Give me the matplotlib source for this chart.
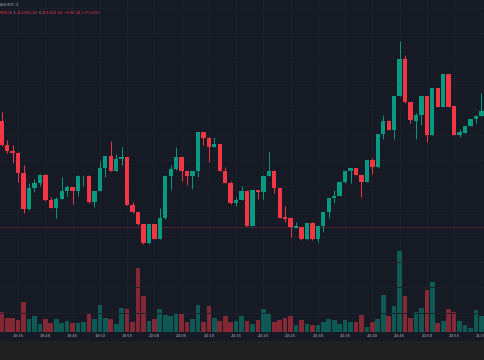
import numpy as np
import pandas as pd
import matplotlib
matplotlib.use("Agg")
import matplotlib.pyplot as plt

# 1 minute candles, 19:32 -> 21:01
times = pd.date_range("2025-01-01 19:32", periods=90, freq="1min")

opens = [113956.6, 113927.5, 113920.8, 113918.8, 113895.2, 113852.0, 113877.5, 113882.7, 113892.5, 113863.0,
         113853.9, 113864.5, 113873.3, 113878.0, 113874.0, 113891.0, 113891.7, 113860.3, 113873.6, 113900.8,
         113914.9, 113897.6, 113911.0, 113913.7, 113857.5, 113848.5, 113834.3, 113812.3, 113834.3, 113817.3,
         113841.4, 113891.7, 113899.2, 113913.4, 113897.2, 113891.7, 113897.2, 113942.9, 113936.5, 113925.9,
         113929.1, 113897.6, 113883.4, 113859.1, 113863.0, 113874.0, 113832.3, 113874.8, 113872.1, 113891.7,
         113897.6, 113876.8, 113843.3, 113841.4, 113830.3, 113831.5, 113816.6, 113836.2, 113816.6, 113832.3,
         113848.8, 113865.0, 113867.7, 113884.6, 113897.6, 113900.8, 113892.5, 113884.6, 113910.2, 113901.6,
         113940.5, 113956.6, 113945.6, 113985.7, 114029.4, 113978.3, 113956.6, 113963.3, 113985.7, 113939.7,
         113994.8, 113973.1, 114011.7, 113973.9, 113939.7, 113942.4, 113950.3, 113958.6, 113962.1, 113967.94]
highs = [113967.2, 113933.4, 113927.9, 113919.6, 113904.3, 113882.7, 113887.4, 113893.1, 113893.1, 113866.9,
         113866.9, 113890.5, 113880.7, 113878.3, 113892.5, 113892.2, 113892.2, 113874.0, 113909.0, 113915.3,
         113932.6, 113917.3, 113925.9, 113914.1, 113860.3, 113848.8, 113834.7, 113834.7, 113834.7, 113853.2,
         113892.2, 113904.3, 113925.9, 113913.7, 113897.6, 113897.6, 113943.2, 113943.2, 113937.0, 113937.7,
         113929.4, 113902.3, 113885.8, 113866.9, 113879.5, 113874.4, 113875.2, 113875.2, 113892.2, 113919.3,
         113898.0, 113877.2, 113855.6, 113841.8, 113836.8, 113832.0, 113836.7, 113836.7, 113832.7, 113849.2,
         113865.4, 113874.8, 113885.1, 113898.0, 113901.1, 113901.1, 113892.9, 113910.6, 113912.2, 113940.9,
         113963.3, 113957.1, 113986.1, 114050.6, 114034.1, 113978.6, 113965.3, 113986.1, 113986.1, 113995.2,
         113995.2, 114012.0, 114012.0, 113974.3, 113946.4, 113950.7, 113958.9, 113963.0, 113988.9, 113968.00]
lows = [113926.7, 113918.1, 113906.3, 113884.6, 113848.0, 113851.2, 113872.8, 113879.5, 113862.4, 113853.6,
        113841.4, 113864.2, 113867.7, 113858.3, 113868.1, 113879.5, 113859.8, 113854.4, 113873.3, 113890.5,
        113897.2, 113897.2, 113904.3, 113857.1, 113848.0, 113833.9, 113811.1, 113810.7, 113817.0, 113817.0,
        113840.9, 113874.8, 113898.8, 113885.8, 113880.7, 113875.6, 113890.5, 113927.9, 113908.2, 113925.5,
        113897.2, 113883.1, 113858.6, 113855.9, 113862.6, 113832.0, 113832.0, 113864.2, 113864.2, 113891.3,
        113870.9, 113841.8, 113836.7, 113819.7, 113830.0, 113816.2, 113816.2, 113816.2, 113813.8, 113825.8,
        113841.4, 113859.1, 113867.4, 113882.7, 113883.4, 113892.2, 113866.9, 113884.2, 113893.3, 113901.1,
        113934.6, 113945.3, 113935.0, 113985.4, 113977.8, 113954.2, 113935.0, 113951.5, 113931.8, 113939.4,
        113972.7, 113972.7, 113972.7, 113939.4, 113937.7, 113942.1, 113950.0, 113953.5, 113961.8, 113831.60]
closes = [113927.5, 113920.5, 113918.8, 113895.2, 113852.0, 113877.5, 113882.7, 113892.5, 113863.0, 113853.9,
          113864.5, 113873.3, 113878.0, 113874.0, 113891.7, 113891.7, 113860.3, 113873.6, 113900.8, 113914.9,
          113897.6, 113911.0, 113913.7, 113857.5, 113848.5, 113834.3, 113812.3, 113834.3, 113817.3, 113841.4,
          113891.7, 113899.2, 113913.4, 113897.2, 113891.7, 113897.2, 113942.9, 113936.5, 113925.9, 113929.1,
          113897.6, 113883.4, 113859.1, 113863.0, 113874.0, 113832.3, 113874.8, 113872.1, 113891.7, 113897.6,
          113876.8, 113842.1, 113840.9, 113830.6, 113832.3, 113816.6, 113836.2, 113816.6, 113832.3, 113848.8,
          113865.0, 113867.7, 113884.6, 113897.6, 113900.8, 113892.5, 113884.6, 113910.2, 113901.6, 113940.5,
          113956.6, 113945.6, 113985.7, 114029.4, 113978.3, 113957.4, 113963.3, 113985.7, 113939.7, 113994.8,
          113973.1, 114011.7, 113973.1, 113939.7, 113942.9, 113950.3, 113958.6, 113962.5, 113968.0, 113831.60]
volumes = [9.85, 7.2, 7.0, 6.0, 15.0, 6.5, 7.85, 4.0, 6.7, 4.35,
           6.35, 4.5, 5.35, 4.5, 4.5, 5.2, 9.35, 6.35, 13.7, 6.85,
           6.35, 4.0, 11.85, 11.7, 5.0, 31.85, 17.85, 5.5, 6.35, 11.5,
           8.7, 7.85, 9.0, 9.35, 5.0, 6.7, 13.35, 5.0, 12.85, 7.2,
           5.5, 8.0, 5.2, 5.5, 8.1, 5.35, 3.85, 5.85, 11.7, 9.35,
           5.0, 5.85, 7.2, 8.2, 3.35, 6.2, 3.85, 3.5, 3.7, 4.85,
           6.5, 6.0, 3.85, 6.0, 5.2, 4.85, 8.7, 2.35, 5.2, 6.5,
           18.35, 8.2, 13.2, 40.5, 17.85, 6.85, 9.85, 11.85, 20.85, 24.85,
           4.5, 5.7, 11.7, 10.0, 5.35, 3.35, 1.85, 11.0, 8.2, 12.5]

tick_labels = ["19:35", "19:40", "19:45", "19:50", "19:55", "20:00", "20:05", "20:10", "20:15",
               "20:20", "20:25", "20:30", "20:35", "20:40", "20:45", "20:50", "20:55", "21:00"]
last_price = 113831.60

BG = "#161a25"
UP = "#089981"
DOWN = "#f23645"
GRID = "#1d212c"

opens = np.array(opens); highs = np.array(highs)
lows = np.array(lows); closes = np.array(closes)
x = np.arange(len(times))
up = closes >= opens
colors = np.where(up, UP, DOWN)

W, H = 485, 360
fig = plt.figure(figsize=(W / 100, H / 100), dpi=100, facecolor="#202020")
rect = [0, 28 / H, 1, 332 / H]

# time scale strip (behind the axes so the tick labels stay on top)
fig.patches.append(plt.Rectangle((0, 19 / H), 1, 9 / H, transform=fig.transFigure,
                                 facecolor=BG, edgecolor="none", zorder=-1))

vax = fig.add_axes(rect, facecolor=BG)
ax = fig.add_axes(rect, facecolor="none", sharex=vax)

xlim = (-1.75 / 5.45, (W - 1.75) / 5.45)
vax.set_xlim(*xlim)
vax.set_ylim(0, 166)
ax.set_ylim(113707.24, 114099.0)

# grid
pos = [times.get_loc(pd.Timestamp("2025-01-01 " + t)) for t in tick_labels]
for p in pos:
    vax.axvline(p, color=GRID, lw=0.7, zorder=0)
for g in np.arange(113730, 114100, 30):
    ax.axhline(g, color=GRID, lw=0.7, zorder=0)

# volume
vax.bar(x, volumes, width=0.86, color=colors, alpha=0.5, linewidth=0, zorder=1)

# last price line
ax.axhline(last_price, color=DOWN, lw=0.6, alpha=0.3, zorder=1)

# candles
ax.vlines(x, lows, highs, colors=colors, lw=0.7, zorder=2)
body = np.maximum(np.abs(closes - opens), 0.8)
ax.bar(x, body, bottom=np.minimum(opens, closes), width=0.79, color=colors, linewidth=0, zorder=3)

for a in (ax, vax):
    for s in a.spines.values():
        s.set_visible(False)
    a.tick_params(left=False, right=False, labelleft=False, bottom=False)
ax.tick_params(labelbottom=False)
vax.set_yticks([])
vax.set_xticks(pos, tick_labels)
vax.tick_params(axis="x", length=0, pad=1.3, labelsize=2.8, labelcolor="#b2b5be")

# header
fig.text(0.0, 1 - 4.5 / H, "h60·BTC·3", color="#b2b5be", fontsize=2.7, va="center", ha="left")
t = fig.text(0.0, 1 - 13.5 / H, "968.00", color=DOWN, fontsize=2.7, va="center", ha="left")
parts = [(" L", "#b2b5be"), ("113,831.60", DOWN), (" C", "#b2b5be"), ("113,831.60", DOWN),
         (" −136.34 (−0.12%)", DOWN)]
for s, c in parts:
    t = ax.annotate(s, xy=(1, 0.5), xycoords=t, va="center", ha="left", color=c, fontsize=2.7)

fig.savefig("out.png", dpi=100, facecolor=fig.get_facecolor())
